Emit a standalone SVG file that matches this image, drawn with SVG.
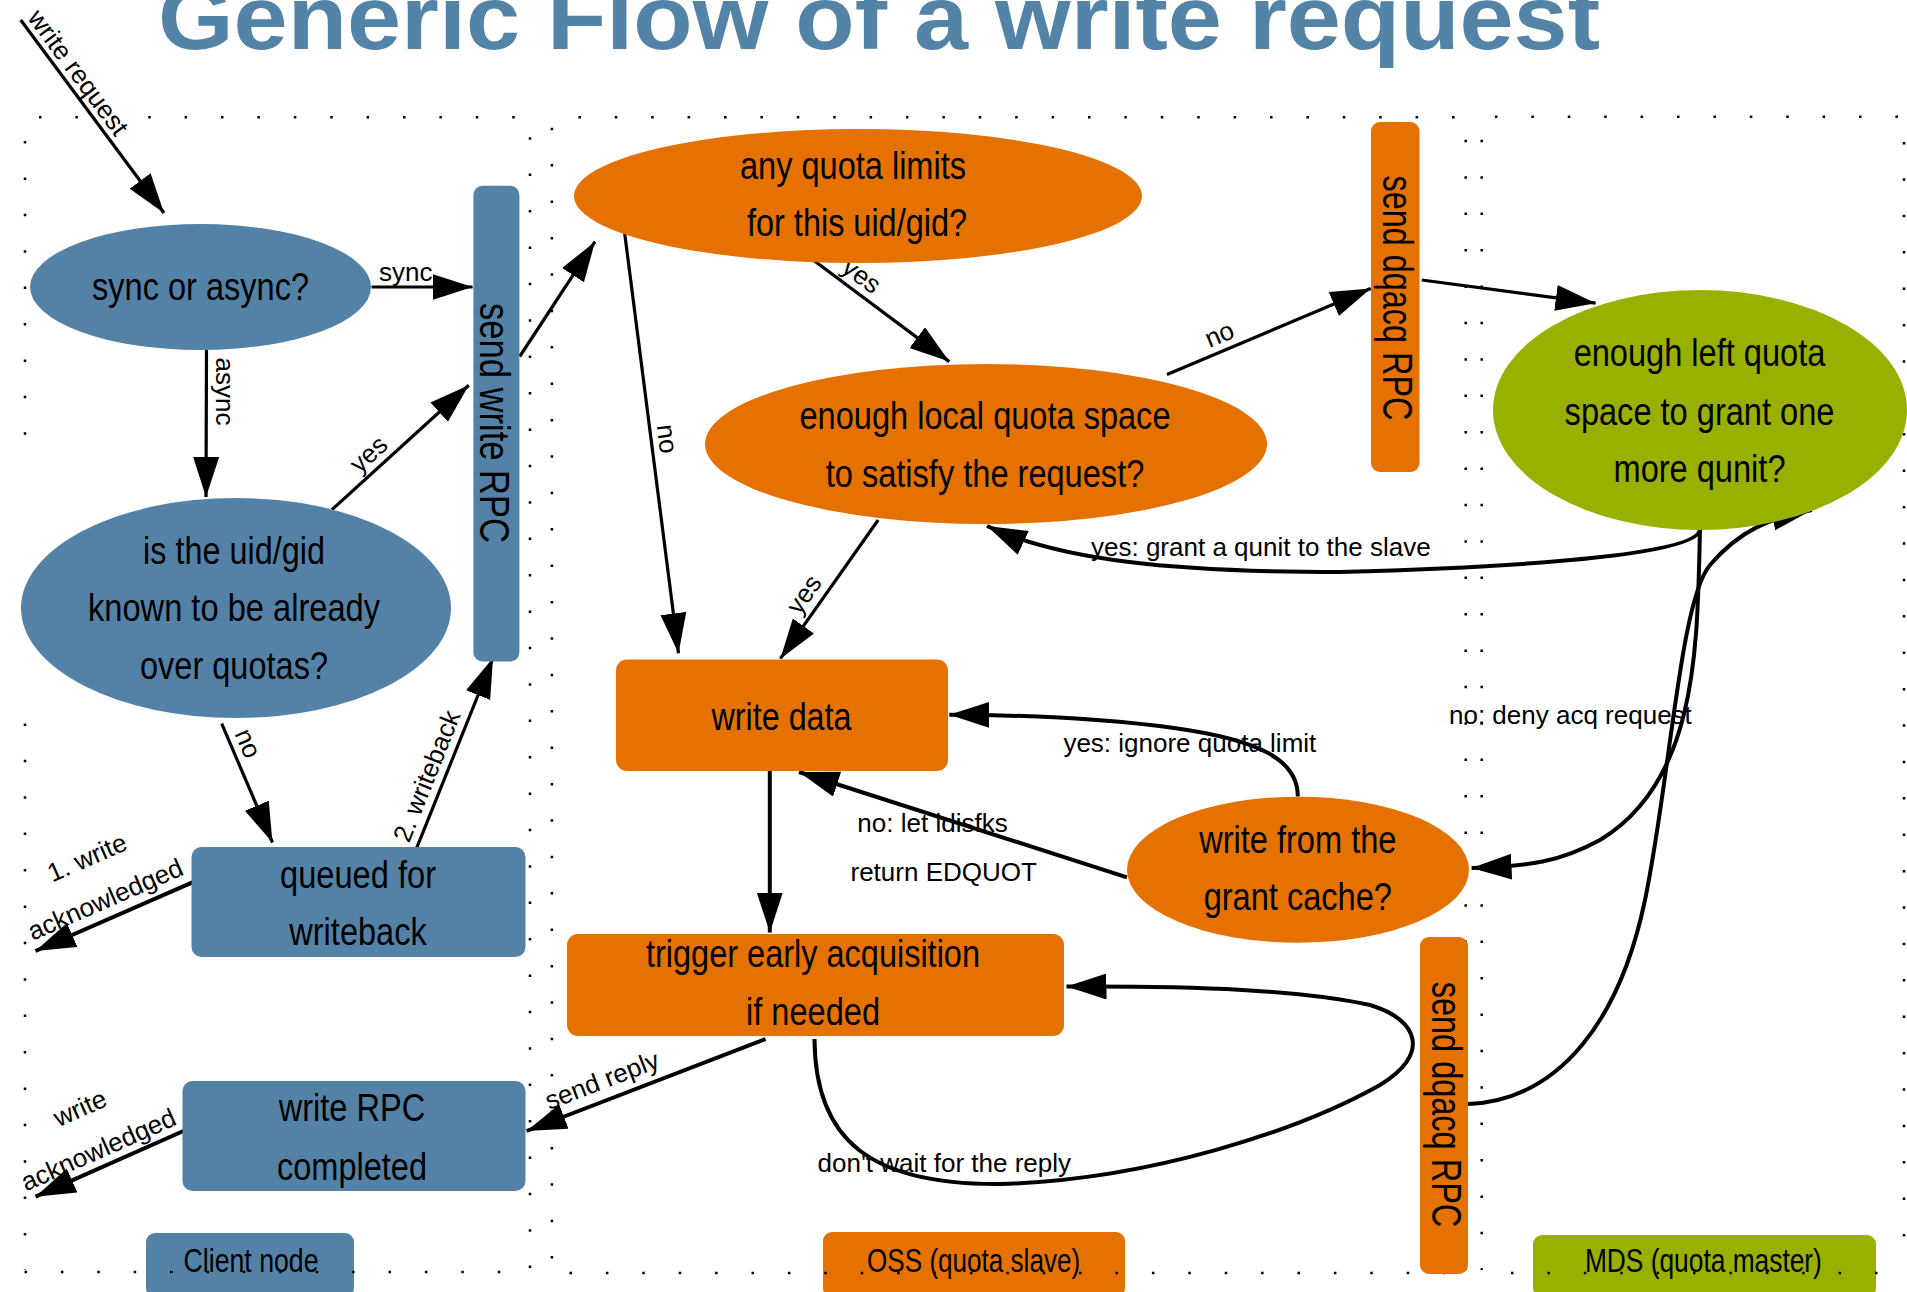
<svg xmlns="http://www.w3.org/2000/svg" width="1907" height="1292" viewBox="0 0 1907 1292">
<defs>
<style>
.blue{fill:#5482a6}
.orange{fill:#e57200}
.green{fill:#99b000}
.nt{font-family:"Liberation Sans",Arial,sans-serif;font-size:38px;fill:#000;text-anchor:middle}
.vt{font-family:"Liberation Sans",Arial,sans-serif;font-size:43px;fill:#000;text-anchor:middle}
.lt{font-family:"Liberation Sans",Arial,sans-serif;font-size:26px;fill:#000}
.lm{font-family:"Liberation Sans",Arial,sans-serif;font-size:26px;fill:#000;text-anchor:middle}
.lg{font-family:"Liberation Sans",Arial,sans-serif;font-size:34px;fill:#000;text-anchor:middle}
.e{fill:none;stroke:#000;stroke-width:3.2}
.ec{fill:none;stroke:#000;stroke-width:4}
.ea{marker-end:url(#ah)}
.dot{fill:none;stroke:#000;stroke-width:2.5;stroke-dasharray:2.5 33.9}
</style>
<marker id="ah" markerUnits="userSpaceOnUse" markerWidth="42" markerHeight="28" refX="40" refY="13" orient="auto"><path d="M0,0 L40,13 L0,26 Z" fill="#000"/></marker>
</defs>
<rect width="1907" height="1292" fill="#fff"/>
<text id="title" x="158" y="49" font-family="Liberation Sans,Arial,sans-serif" font-weight="bold" font-size="90" fill="#5383a6" textLength="1442" lengthAdjust="spacingAndGlyphs">Generic Flow of a write request</text>

<g id="legend">
<g id="legend-client"><rect x="146" y="1233" width="208" height="64" rx="9" class="blue"/><text class="lg" x="251" y="1272" textLength="135" lengthAdjust="spacingAndGlyphs">Client node</text></g>
<g id="legend-oss"><rect x="823" y="1232" width="302" height="65" rx="9" class="orange"/><text class="lg" x="973.6" y="1272" textLength="213" lengthAdjust="spacingAndGlyphs">OSS (quota slave)</text></g>
<g id="legend-mds"><rect x="1533" y="1235" width="343" height="62" rx="9" class="green"/><text class="lg" x="1703.4" y="1272" textLength="237" lengthAdjust="spacingAndGlyphs">MDS (quota master)</text></g>
</g>

<g id="lanes">
<path class="dot" d="M39,117.3 H530 M25,141 V468 M25,723.4 V1270 M530,137.2 V1270 M24.5,1272 H530"/>
<path class="dot" d="M578.4,117.3 H1466 M551.9,127.7 V1270 M1465.7,139.8 V1270 M569.5,1273 H1466"/>
<path class="dot" d="M1495,116.8 H1904 M1481.7,139.8 V1270 M1904,141.9 V1270 M1511,1273 H1904"/>
</g>

<g id="connectors">
<path class="e ea" d="M20.7,20 L164,213"/>
<path class="e ea" d="M371.6,287 L472.6,287"/>
<path class="e ea" d="M206.5,349.6 L206,497"/>
<path class="e ea" d="M332,509.6 L468.8,385.2"/>
<path class="e ea" d="M519.7,356.5 L595,241.7"/>
<path class="e ea" d="M624.3,230.3 L678.5,653.2"/>
<path class="e ea" d="M810.2,257.8 L949.3,361.6"/>
<path class="e ea" d="M1167,374.5 L1370.7,288.5"/>
<path class="e ea" d="M878.2,520 L780.4,658.7"/>
<path class="e ea" d="M1421.8,280 L1595.6,303.2"/>
<path class="ec ea" d="M1700,530 C1696,552 1560,566 1340,572 C1170,572 1060,560 987,526"/>
<path class="ec ea" d="M1297.8,796.6 C1298,760 1260,740 1174,728 C1100,718 1030,715 949.3,714.7"/>
<path class="ec ea" d="M1127,877.3 L799,772"/>
<path class="ec ea" d="M769.8,771 L769.8,932.6"/>
<path class="ec ea" d="M765.5,1039 L526.6,1131"/>
<path class="ec ea" d="M814.5,1039 C815,1140 870,1185 1000,1184 C1150,1180 1300,1130 1380,1085 C1430,1055 1420,1020 1370,1005 C1300,990 1200,986 1066.5,986.6"/>
<path class="ec ea" d="M1700,530 C1697,640 1700,780 1600,840 C1560,862 1530,866 1471.6,868"/>
<path class="e ea" d="M221.7,723.7 L272.5,842.5"/>
<path class="e ea" d="M416.4,848.6 L493,658"/>
<path class="ec ea" d="M194.7,881.4 L35.5,951"/>
<path class="ec ea" d="M194.7,1126 L35.5,1196.7"/>
<path class="ec ea" d="M1468,1104 C1560,1100 1620,1020 1645,900 C1670,780 1680,600 1710,565 C1740,530 1770,518 1812,510"/>

<text class="lt" transform="translate(20.7,20) rotate(53.4)" x="2" y="-6">write request</text>
<text class="lt" x="379" y="281">sync</text>
<text class="lm" transform="translate(221,391.5) rotate(90)" y="5">async</text>
<text class="lm" transform="translate(371,457) rotate(-42.3)" y="5">yes</text>
<text class="lm" transform="translate(665.5,439) rotate(82.7)" y="7">no</text>
<text class="lm" transform="translate(859.5,278.7) rotate(36.7)" y="5">yes</text>
<text class="lm" transform="translate(1220,336) rotate(-22.9)" y="7">no</text>
<text class="lm" transform="translate(807,596.5) rotate(-54.8)" y="5">yes</text>
<text class="lt" x="1091" y="555.8">yes: grant a qunit to the slave</text>
<text class="lt" x="1063.4" y="752.4">yes: ignore quota limit</text>
<text class="lm" x="932.5" y="832">no: let ldisfks</text>
<text class="lm" x="943.7" y="881.4">return EDQUOT</text>
<text class="lt" x="1449" y="723.7">no: deny acq request</text>
<text class="lt" x="817.5" y="1172">don't wait for the reply</text>
<text class="lm" transform="translate(603,1083) rotate(-21)" y="6">send reply</text>
<text class="lm" transform="translate(246.4,744) rotate(66.8)" y="7">no</text>
<text class="lm" transform="translate(428.5,776.7) rotate(-68.1)" y="7">2. writeback</text>
<g transform="translate(96.4,879) rotate(-23.6)"><text class="lm" y="-14.5">1. write</text><text class="lm" y="31">acknowledged</text></g>
<g transform="translate(89.5,1129.5) rotate(-23.9)"><text class="lm" y="-14.5">write</text><text class="lm" y="31">acknowledged</text></g>
</g>

<g id="n-sync"><ellipse cx="200.5" cy="287" rx="170.5" ry="63" class="blue"/><text class="nt" x="200.5" y="300" textLength="217" lengthAdjust="spacingAndGlyphs">sync or async?</text></g>
<g id="n-known"><ellipse cx="236" cy="608" rx="215" ry="110" class="blue"/>
<text class="nt" x="234" y="564" textLength="182" lengthAdjust="spacingAndGlyphs">is the uid/gid</text>
<text class="nt" x="234" y="621.3" textLength="292" lengthAdjust="spacingAndGlyphs">known to be already</text>
<text class="nt" x="234" y="678.8" textLength="188" lengthAdjust="spacingAndGlyphs">over quotas?</text></g>
<g id="n-sendwrite"><rect x="473.4" y="185.8" width="46" height="475.7" rx="9" class="blue"/><text class="vt" transform="translate(495.5,423) rotate(90)" y="15.5" textLength="240" lengthAdjust="spacingAndGlyphs">send write RPC</text></g>
<g id="n-queued"><rect x="191.5" y="847" width="334" height="110" rx="10" class="blue"/>
<text class="nt" x="358" y="887.5" textLength="156" lengthAdjust="spacingAndGlyphs">queued for</text>
<text class="nt" x="358" y="944.8" textLength="137.5" lengthAdjust="spacingAndGlyphs">writeback</text></g>
<g id="n-rpcdone"><rect x="182.5" y="1081" width="343" height="110" rx="10" class="blue"/>
<text class="nt" x="352" y="1121" textLength="146.6" lengthAdjust="spacingAndGlyphs">write RPC</text>
<text class="nt" x="352" y="1180" textLength="150" lengthAdjust="spacingAndGlyphs">completed</text></g>
<g id="n-anyquota"><ellipse cx="858" cy="196" rx="284" ry="67" class="orange"/>
<text class="nt" x="853" y="178.9" textLength="226" lengthAdjust="spacingAndGlyphs">any quota limits</text>
<text class="nt" x="857" y="236.3" textLength="220" lengthAdjust="spacingAndGlyphs">for this uid/gid?</text></g>
<g id="n-local"><ellipse cx="986" cy="444" rx="281" ry="80" class="orange"/>
<text class="nt" x="985" y="429" textLength="371" lengthAdjust="spacingAndGlyphs">enough local quota space</text>
<text class="nt" x="985" y="486.5" textLength="318.6" lengthAdjust="spacingAndGlyphs">to satisfy the request?</text></g>
<g id="n-writedata"><rect x="616" y="659.6" width="332" height="111.4" rx="11" class="orange"/><text class="nt" x="781.5" y="730" textLength="140" lengthAdjust="spacingAndGlyphs">write data</text></g>
<g id="n-trigger"><rect x="567" y="934" width="497" height="102" rx="11" class="orange"/>
<text class="nt" x="813" y="967.4" textLength="334" lengthAdjust="spacingAndGlyphs">trigger early acquisition</text>
<text class="nt" x="813" y="1024.7" textLength="134" lengthAdjust="spacingAndGlyphs">if needed</text></g>
<g id="n-cache"><ellipse cx="1298" cy="869.7" rx="171" ry="73" class="orange"/>
<text class="nt" x="1297.8" y="852.7" textLength="197.3" lengthAdjust="spacingAndGlyphs">write from the</text>
<text class="nt" x="1297.8" y="910" textLength="188.3" lengthAdjust="spacingAndGlyphs">grant cache?</text></g>
<g id="n-dqacq1"><rect x="1371" y="122" width="48.5" height="350" rx="9" class="orange"/><text class="vt" transform="translate(1395.2,298) rotate(90)" y="12" textLength="245" lengthAdjust="spacingAndGlyphs">send dqacq RPC</text></g>
<g id="n-dqacq2"><rect x="1420" y="937" width="48" height="337" rx="9" class="orange"/><text class="vt" transform="translate(1444,1104.5) rotate(90)" y="12" textLength="245.6" lengthAdjust="spacingAndGlyphs">send dqacq RPC</text></g>
<g id="n-master"><ellipse cx="1700" cy="410" rx="207" ry="120" class="green"/>
<text class="nt" x="1699.5" y="366" textLength="251.7" lengthAdjust="spacingAndGlyphs">enough left quota</text>
<text class="nt" x="1699.5" y="424.7" textLength="269.8" lengthAdjust="spacingAndGlyphs">space to grant one</text>
<text class="nt" x="1699.5" y="482" textLength="172" lengthAdjust="spacingAndGlyphs">more qunit?</text></g>
</svg>
